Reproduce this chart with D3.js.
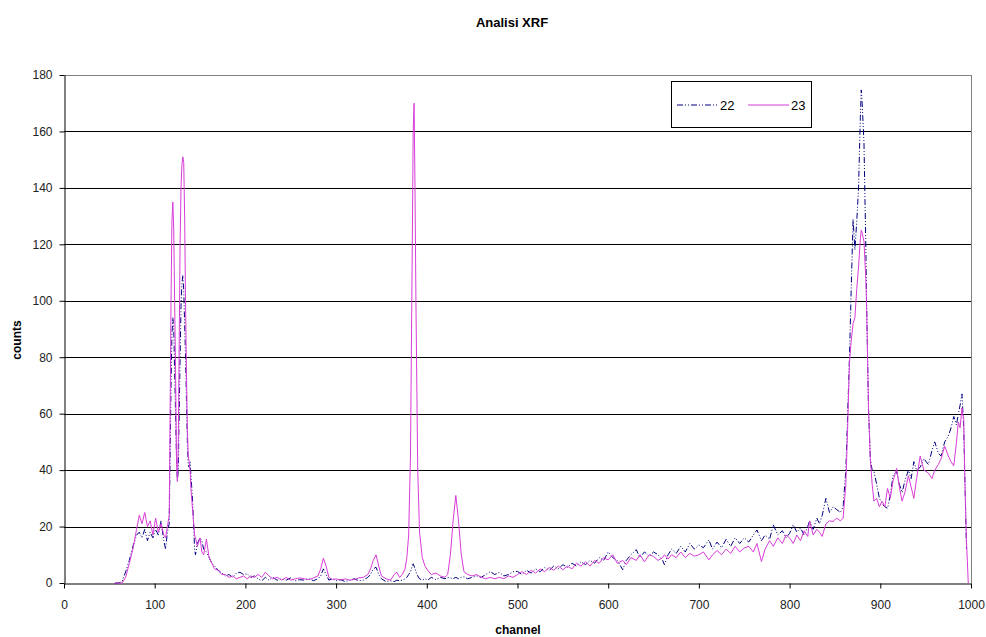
<!DOCTYPE html>
<html>
<head>
<meta charset="utf-8">
<script src="https://cdn.jsdelivr.net/npm/d3@7"></script>
<style>
  body { margin: 0; background: #fff; }
  text { font-family: "Liberation Sans", Arial, sans-serif; }
</style>
</head>
<body>
<div id="chart"></div>
<script>
const width = 986;
const height = 637;

// channels sampled from the spectrum
const channels = [56, 60, 64, 68, 72, 76, 80, 83, 86, 89, 92, 95, 98, 101, 104, 107, 110, 112, 114, 116,
  117, 118, 119, 120, 121, 122, 123, 124, 125, 126, 127, 128, 129, 130, 131, 132, 133, 134, 135, 136,
  137, 138, 139, 140, 142, 144, 145, 147, 150, 152, 154, 157, 160, 163, 166, 170, 174, 178, 182, 186,
  190, 194, 198, 202, 206, 210, 214, 218, 222, 226, 230, 235, 240, 245, 250, 255, 260, 265, 270, 275,
  280, 283, 286, 289, 292, 296, 300, 305, 310, 315, 320, 325, 330, 335, 338, 341, 344, 347, 350, 355,
  360, 364, 367, 370, 373, 376, 378, 380, 382, 384, 385, 386, 387, 388, 390, 392, 395, 398, 401, 405,
  410, 415, 420, 423, 426, 429, 432, 435, 438, 441, 445, 450, 455, 460, 465, 470, 475, 480, 485, 490,
  495, 500, 505, 510, 515, 520, 525, 530, 535, 540, 545, 550, 555, 560, 565, 570, 575, 580, 585, 590,
  595, 600, 605, 610, 616, 620, 625, 631, 635, 640, 645, 650, 655, 660, 662, 666, 670, 675, 680, 685,
  690, 695, 700, 705, 711, 715, 720, 725, 730, 735, 740, 745, 750, 755, 760, 764, 769, 773, 778, 782,
  787, 792, 796, 800, 804, 808, 812, 816, 820, 822, 826, 830, 833, 836, 840, 844, 848, 852, 856, 859,
  862, 864, 866, 868, 870, 872, 874, 876, 878, 879, 880, 882, 884, 885, 887, 889, 891, 893, 896, 899,
  902, 905, 908, 911, 914, 918, 921, 924, 927, 931, 934, 937, 940, 944, 948, 953, 957, 960, 964, 967,
  971, 975, 978, 981, 984, 986, 988, 990, 992, 993, 995, 997];

const counts22 = [0, 0, 0.5, 4, 8, 13, 17, 18, 16, 19, 15, 18, 16, 19, 17, 22, 15, 12, 18, 21,
  45, 70, 88, 94, 90, 75, 60, 45, 36, 40, 60, 80, 98, 106, 109, 104, 92, 80, 65, 50,
  42, 41, 43, 38, 28, 12, 10, 14, 16, 15, 12, 11, 9, 7, 6, 4.5, 3.5, 2.5, 3, 2,
  3.5, 3.8, 3, 3.3, 2, 2.5, 1.5, 0.8, 2, 1, 2, 1, 1.5, 1, 1.8, 0.8, 1.2, 1, 1.5, 0.8,
  1.5, 2.5, 5, 3, 1, 1.5, 0.8, 1.2, 0.5, 1, 1.5, 0.8, 1, 2, 3, 5, 5.6, 3, 1.5, 0.5,
  0.8, 0.5, 1, 0.8, 1, 1.5, 2, 3, 4, 6, 6.8, 6, 5, 4, 2.5, 1.5, 1, 1.5, 1, 2,
  1.2, 2, 1.5, 2, 1.8, 1.5, 2, 1.5, 2, 2.2, 1.5, 2, 2.5, 2, 3, 4, 3, 3.8, 2.5, 3,
  4, 4.1, 3, 4.5, 3.5, 5, 4, 5.5, 4.5, 6, 5, 6.5, 5.5, 7, 6, 7.5, 6.5, 8, 7, 9,
  8, 11, 9, 8, 4.7, 8, 10, 11.8, 9, 11, 9.5, 11, 10, 8, 6.5, 10, 12, 10.5, 13, 11,
  14, 12, 13.5, 12.5, 15.3, 12, 14.5, 12.5, 15.5, 13, 16, 14, 16, 14.5, 17, 18.8, 15, 17, 15.5, 20.6,
  17, 18.5, 16, 17.6, 20.6, 18, 19.5, 17, 20, 22, 19, 23, 21, 24, 30, 25, 27, 26, 25, 27,
  40, 60, 80, 105, 129, 118, 128, 140, 165, 174.7, 170, 156, 120, 97, 62, 44, 40, 39.5, 35, 30,
  28, 27, 26.5, 31, 38, 39.5, 35, 32, 36, 40, 37, 43, 40, 41, 44, 42, 47, 50, 46, 45,
  50, 52, 55, 59, 56, 60, 63, 67, 55, 40, 12, null];

const counts23 = [0, 0, 0, 2, 7, 12, 19, 24, 21, 25, 20, 22, 17, 23, 18, 21, 17, 16, 20, 24,
  60, 100, 128, 135, 125, 100, 75, 45, 36, 50, 85, 120, 140, 148, 151, 149, 130, 100, 75, 55,
  45, 43, 40, 33, 25, 17, 16, 13, 16, 11, 10, 15.5, 9, 7, 5, 4.5, 3, 3, 2, 2.5,
  1.5, 2, 2.5, 1.5, 2.5, 2, 3, 2, 3.8, 2.5, 1.5, 2, 1, 2, 1, 1.5, 1.8, 1.5, 1.2, 1.8,
  2.5, 5, 8.8, 6, 2, 1.2, 1.5, 1, 1.5, 1, 1.2, 1.8, 2, 3, 5, 8, 10, 6, 2.5, 1.5,
  1, 3, 3.8, 2, 3, 5, 9, 17, 45, 120, 160, 170, 140, 100, 40, 18, 9, 6, 4.5, 3,
  3.5, 2.5, 2, 3, 10, 22, 31, 22, 10, 4, 3, 2.5, 3, 2, 1.5, 2, 1.5, 2, 1.5, 2.5,
  2, 3, 4, 3, 4.5, 3.5, 5, 4, 5.5, 4.5, 6, 4.7, 6, 5, 7, 6, 7.5, 6, 8, 7,
  9, 8.2, 10, 7, 8, 6.5, 9, 8, 10, 7.5, 10, 9.4, 8, 9, 10, 8.5, 10, 9, 11, 9,
  10.5, 9.5, 10, 11, 8.2, 10, 11.5, 10, 12, 10.5, 13, 11, 12.4, 13, 11, 14, 7.6, 12, 15, 13,
  16, 14, 17, 16, 14, 17, 15, 18.5, 16.5, 22, 17, 19, 18, 16.5, 21, 22, 21.8, 23, 22, 23,
  35, 55, 78, 86, 92, 94, 104, 112, 122, 125, 124, 121, 108, 97, 62, 44, 35, 29, 30, 27,
  29, 27, 33.5, 30, 36, 40.6, 34, 29, 32, 38, 34, 30, 37, 45, 40, 39, 37, 40, 42, 44,
  48.5, 45, 43, 41.5, 50, 57, 55, 62, 58, 40, 15, 0];

const yTicks = [0, 20, 40, 60, 80, 100, 120, 140, 160, 180];
const xTicks = [0, 100, 200, 300, 400, 500, 600, 700, 800, 900, 1000];

const margin = { left: 64, right: 15, top: 75, bottom: 54 };
const plotW = width - margin.left - margin.right;
const plotH = height - margin.top - margin.bottom;

const svg = d3.select("#chart").append("svg")
    .attr("width", width)
    .attr("height", height);

const x = d3.scaleLinear().domain([0, 1000]).range([margin.left, margin.left + plotW]);
const y = d3.scaleLinear().domain([0, 180]).range([margin.top + plotH, margin.top]);

// title
svg.append("text")
    .attr("x", 512).attr("y", 27)
    .attr("text-anchor", "middle")
    .style("font-size", "13px").style("font-weight", "bold")
    .text("Analisi XRF");

// plot border (right side is grey in the original)
svg.append("line")
    .attr("x1", x(1000) + 0.5).attr("x2", x(1000) + 0.5)
    .attr("y1", y(180)).attr("y2", y(0))
    .style("stroke", "#808080");

// gridlines
svg.append("g").selectAll("line")
    .data(yTicks.slice(1))
    .join("line")
    .attr("x1", x(0)).attr("x2", x(1000))
    .attr("y1", d => Math.round(y(d)) + 0.5)
    .attr("y2", d => Math.round(y(d)) + 0.5)
    .style("stroke", d => d === 180 ? "#808080" : "#000")
    .style("stroke-width", 1);

// axes
const yAxis = svg.append("g")
    .attr("transform", `translate(${x(0) + 0.5},0)`)
    .call(d3.axisLeft(y).tickValues(yTicks).tickSize(5).tickPadding(7).tickSizeOuter(0));
const xAxis = svg.append("g")
    .attr("transform", `translate(0,${Math.round(y(0)) + 0.5})`)
    .call(d3.axisBottom(x).tickValues(xTicks).tickFormat(d3.format("d"))
        .tickSize(5).tickPadding(12).tickSizeOuter(0));

[yAxis, xAxis].forEach(ax => {
    ax.select(".domain").style("stroke", "#000");
    ax.selectAll(".tick line").style("stroke", "#000");
    ax.selectAll("text")
        .style("font-family", "'Liberation Sans', Arial, sans-serif")
        .style("font-size", "12px")
        .style("fill", "#222");
});

// axis titles
svg.append("text")
    .attr("x", 518).attr("y", 634)
    .attr("text-anchor", "middle")
    .style("font-size", "12px").style("font-weight", "bold")
    .text("channel");
svg.append("text")
    .attr("transform", "translate(21,340) rotate(-90)")
    .attr("text-anchor", "middle")
    .style("font-size", "12px").style("font-weight", "bold")
    .text("counts");

// series
const series = [
    { name: "22", values: counts22, color: "#000080", dash: "6,2,1,2,1,2" },
    { name: "23", values: counts23, color: "#d83cd8", dash: null }
];

const line = d3.line()
    .defined(d => d[1] !== null)
    .x(d => x(d[0]))
    .y(d => y(d[1]));

svg.append("g").selectAll("path")
    .data(series)
    .join("path")
    .attr("d", s => line(channels.map((c, i) => [c, s.values[i]])))
    .style("fill", "none")
    .style("stroke", s => s.color)
    .style("stroke-width", 1)
    .style("stroke-dasharray", s => s.dash);

// legend
const legend = svg.append("g");
legend.append("rect")
    .attr("x", 671.5).attr("y", 81.5)
    .attr("width", 140).attr("height", 46)
    .style("fill", "#fff").style("stroke", "#000");

const legItems = legend.selectAll("g.item")
    .data(series)
    .join("g")
    .attr("class", "item")
    .attr("transform", (d, i) => `translate(${677 + i * 71},105)`);

legItems.append("line")
    .attr("x1", 0).attr("x2", 41)
    .style("stroke", d => d.color)
    .style("stroke-dasharray", d => d.dash);
legItems.append("text")
    .attr("x", 43).attr("y", 5)
    .style("font-size", "13px")
    .text(d => d.name);
</script>
</body>
</html>
